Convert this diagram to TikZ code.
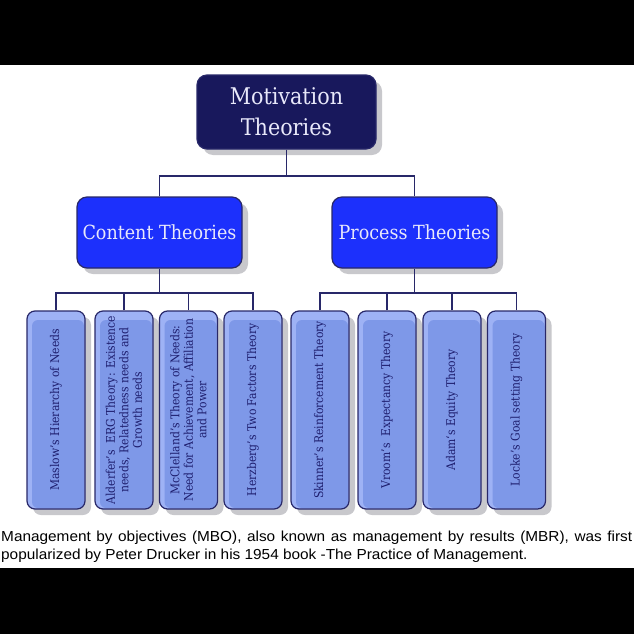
\documentclass[tikz,border=0pt]{standalone}
\usepackage{fontspec}
\usepackage{graphicx}
\setmainfont{DejaVu Serif Condensed}
\newfontfamily\capfont{Liberation Sans}[FakeStretch=1.06]
\usetikzlibrary{shadows}
\definecolor{navy}{RGB}{24,24,92}
\definecolor{midblue}{RGB}{28,48,252}
\definecolor{leaflight}{RGB}{158,178,245}
\definecolor{leafdark}{RGB}{126,152,232}
\definecolor{linkblue}{RGB}{40,40,105}
\definecolor{shadowgray}{RGB}{200,200,204}
\definecolor{leaftext}{RGB}{30,30,110}
\definecolor{headtext}{RGB}{232,232,250}
\newcommand{\vtext}[1]{\rotatebox{90}{\parbox{194pt}{\centering #1}}}
\tikzset{
  box/.style={draw=linkblue, line width=1.2pt, inner sep=0pt, align=center,
    drop shadow={shadow xshift=6pt, shadow yshift=-6pt, fill=shadowgray, opacity=1}},
  head/.style={box, fill=navy, rounded corners=10pt, text=headtext,
    minimum width=179pt, minimum height=74pt, font=\fontsize{23}{31}\selectfont},
  group/.style={box, fill=midblue, rounded corners=10pt, text=headtext,
    minimum width=165pt, minimum height=71pt, font=\fontsize{19.5}{24}\selectfont},
  leaf/.style={box, fill=leaflight, rounded corners=8pt, text=leaftext,
    minimum width=58pt, minimum height=198pt, font=\fontsize{12}{13.5}\selectfont,
    path picture={\fill[leafdark, rounded corners=6pt]
      ([xshift=5pt,yshift=-9pt]path picture bounding box.north west) rectangle
      ([xshift=-1pt,yshift=1pt]path picture bounding box.south east);}},
  link/.style={draw=linkblue, line width=1.7pt}
}
\begin{document}
\begin{tikzpicture}[x=1pt,y=-1pt]
\useasboundingbox (0,0) rectangle (634,634);
\fill[white] (0,0) rectangle (634,634);
\fill[black] (0,0) rectangle (634,65);
\fill[black] (0,568) rectangle (634,634);
% top of the chart
\node[head] (motiv) at (286.5,112) {Motivation\\Theories};
\node[group] (content) at (159.5,232.5) {Content Theories};
\node[group] (process) at (414.5,232.5) {Process Theories};
% content theories
\node[leaf] (maslow) at (56,410) {\vtext{Maslow's Hierarchy of Needs}};
\node[leaf] (alderfer) at (124,410) {\vtext{Alderfer's\ \ ERG Theory: Existence\\needs, Relatedness needs and\\Growth needs}};
\node[leaf] (mcclelland) at (188.5,410) {\vtext{McClelland's Theory of Needs:\\Need for Achievement, Affiliation\\and Power}};
\node[leaf] (herzberg) at (253,410) {\vtext{Herzberg's Two Factors Theory}};
% process theories
\node[leaf] (skinner) at (320,410) {\vtext{Skinner's Reinforcement Theory}};
\node[leaf] (vroom) at (387,410) {\vtext{Vroom's\ \ Expectancy Theory}};
\node[leaf] (adam) at (452,410) {\vtext{Adam\symbol{96}s Equity Theory}};
\node[leaf] (locke) at (516.5,410) {\vtext{Locke's Goal setting Theory}};
% connectors
\coordinate (topsplit) at (286.5,176);
\coordinate (csplit) at (159.5,293);
\coordinate (psplit) at (414.5,293);
\draw[link] (motiv.south) -- (topsplit);
\draw[link] (content.north) |- (topsplit) -| (process.north);
\draw[link] (content.south) -- (csplit);
\draw[link] (process.south) -- (psplit);
\foreach \leafname in {maslow,alderfer,mcclelland,herzberg}
  \draw[link] (\leafname.north) |- (csplit);
\foreach \leafname in {skinner,vroom,adam,locke}
  \draw[link] (\leafname.north) |- (psplit);
% caption
\node[anchor=north west, inner sep=0pt, text width=631pt, align=justify,
  font=\capfont\fontsize{14.5}{17.5}\selectfont] (caption) at (1,531)
  {Management by objectives (MBO), also known as management by results (MBR), was first\linebreak
   popularized by Peter Drucker in his 1954 book -The Practice of Management.};
\end{tikzpicture}
\end{document}
